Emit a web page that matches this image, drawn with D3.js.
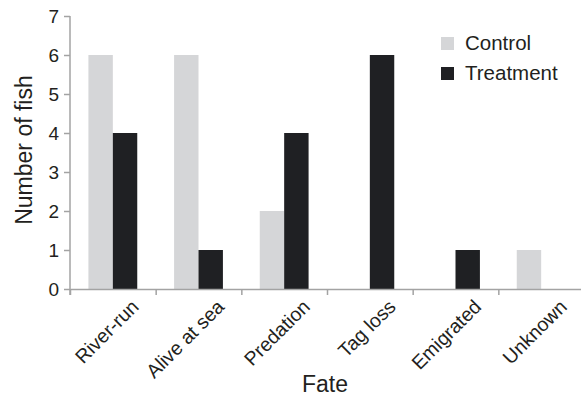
<!DOCTYPE html>
<html>
<head>
<meta charset="utf-8">
<script src="https://cdn.jsdelivr.net/npm/d3@7"></script>
<style>
  body { margin: 0; background: #fff; }
  svg { display: block; font-family: "Liberation Sans", Arial, sans-serif; }
</style>
</head>
<body>
<div id="chart"></div>
<script>
// Data
const fates = ['River-run', 'Alive at sea', 'Predation', 'Tag loss', 'Emigrated', 'Unknown'];
const seriesNames = ['Control', 'Treatment'];
const controlCounts = [6, 6, 2, 0, 0, 1];
const treatmentCounts = [4, 1, 4, 6, 1, 0];
const yTicks = [0, 1, 2, 3, 4, 5, 6, 7];

const colors = { Control: '#d5d6d8', Treatment: '#1f2023' };
const axisColor = '#a3a3a3';
const textColor = '#231f20';

const width = 581, height = 401;
const margin = { top: 16, right: -3, bottom: 112, left: 70 };
const innerW = width - margin.left - margin.right;
const innerH = height - margin.top - margin.bottom;

const rows = fates.map((f, i) => ({ fate: f, Control: controlCounts[i], Treatment: treatmentCounts[i] }));

const svg = d3.select('#chart').append('svg')
    .attr('width', width)
    .attr('height', height);

const g = svg.append('g')
    .attr('transform', `translate(${margin.left},${margin.top})`);

// Scales: category bands with ticks on the band boundaries
const x0 = d3.scaleBand().domain(fates).range([0, innerW]).padding(0);
const pairW = x0.bandwidth() * 0.57;
const x1 = d3.scaleBand().domain(seriesNames)
    .range([(x0.bandwidth() - pairW) / 2, (x0.bandwidth() + pairW) / 2]);
const y = d3.scaleLinear().domain([0, 7]).range([innerH, 0]);

// Bars
const groups = g.selectAll('.fate')
    .data(rows)
    .enter()
    .append('g')
    .attr('class', 'fate')
    .attr('transform', d => `translate(${x0(d.fate)},0)`);

groups.selectAll('rect')
    .data(d => seriesNames.map(s => ({ s, v: d[s] })))
    .enter()
    .append('rect')
    .attr('x', d => x1(d.s))
    .attr('y', d => y(d.v))
    .attr('width', x1.bandwidth())
    .attr('height', d => innerH - y(d.v))
    .attr('fill', d => colors[d.s]);

// Y axis
const yAxis = g.append('g')
    .call(d3.axisLeft(y).tickValues(yTicks).tickFormat(d3.format('d'))
        .tickSize(6).tickSizeOuter(0).tickPadding(5));

// X axis: boundary ticks, no labels
const boundary = d3.scaleLinear().domain([0, fates.length]).range(x0.range());
const xAxis = g.append('g')
    .attr('transform', `translate(0,${innerH})`)
    .call(d3.axisBottom(boundary).tickValues(d3.range(fates.length)).tickFormat('').tickSize(6).tickSizeOuter(0));

[yAxis, xAxis].forEach(a => {
    a.select('.domain').attr('stroke', axisColor).attr('stroke-width', 1.5);
    a.selectAll('.tick line').attr('stroke', axisColor).attr('stroke-width', 1.5);
});
// y axis line continues down to the x tick length
yAxis.select('.domain').attr('d', `M0,0V${innerH + 6}`);

yAxis.selectAll('.tick text')
    .attr('fill', textColor)
    .style('font-size', '19px');

// Rotated category labels
g.append('g')
    .selectAll('text')
    .data(fates)
    .enter()
    .append('text')
    .attr('transform', d => `translate(${x0(d) + x0.bandwidth() / 2 + 27},${innerH + 19}) rotate(-45)`)
    .attr('text-anchor', 'end')
    .attr('fill', textColor)
    .style('font-size', '19.5px')
    .text(d => d);

// Axis titles
svg.append('text')
    .attr('x', margin.left + 255)
    .attr('y', 392)
    .attr('text-anchor', 'middle')
    .attr('fill', textColor)
    .style('font-size', '23px')
    .text('Fate');

svg.append('text')
    .attr('transform', `translate(32,${margin.top + 134}) rotate(-90)`)
    .attr('text-anchor', 'middle')
    .attr('fill', textColor)
    .style('font-size', '23px')
    .text('Number of fish');

// Legend
const legend = svg.append('g')
    .attr('transform', 'translate(441,37)');

const items = legend.selectAll('.item')
    .data(seriesNames)
    .enter()
    .append('g')
    .attr('class', 'item')
    .attr('transform', (d, i) => `translate(0,${i * 30})`);

items.append('rect')
    .attr('width', 13)
    .attr('height', 13)
    .attr('fill', d => colors[d]);

items.append('text')
    .attr('x', 24)
    .attr('y', 12.5)
    .attr('fill', textColor)
    .style('font-size', '20.5px')
    .text(d => d);
</script>
</body>
</html>
